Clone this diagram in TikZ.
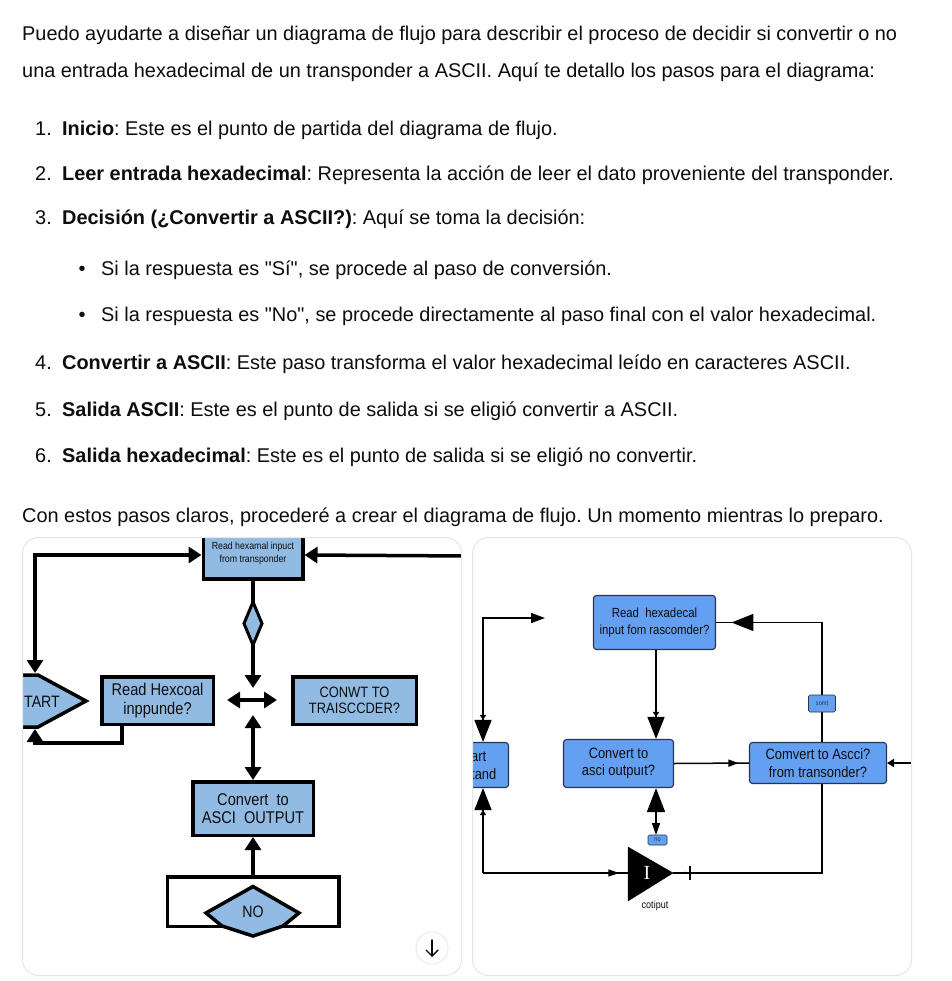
\documentclass[tikz,border=0pt]{standalone}
\usepackage{fontspec}
\setmainfont{Liberation Sans}[Ligatures=TeXOff]
\newfontfamily\serifI{Liberation Serif}
\newfontfamily\cond[FakeStretch=0.86]{Liberation Sans}
\usetikzlibrary{arrows.meta,decorations.markings,calc}
\definecolor{txt}{HTML}{0D0D0D}
\definecolor{lblue}{RGB}{146,187,228}
\definecolor{rblue}{RGB}{100,160,242}
\definecolor{rborder}{RGB}{40,52,80}
\definecolor{panel}{RGB}{230,230,230}
\tikzset{ltip/.tip={Triangle[length=13pt,width=16pt]}}
\frenchspacing
\begin{document}
\begin{tikzpicture}[x=1pt,y=-1pt,
  body/.style={anchor=base west,inner sep=0pt,text=txt,font=\fontsize{19.9}{24}\selectfont},
  num/.style={anchor=base east,inner sep=0pt,text=txt,font=\fontsize{19.9}{24}\selectfont},
  bul/.style={anchor=base,inner sep=0pt,text=txt,font=\fontsize{19.9}{24}\selectfont},
  lbox/.style={draw=black,line width=3.5pt,fill=lblue,inner sep=0pt,align=center,text=txt,font=\cond\fontsize{17}{18.5}\selectfont},
  lline/.style={line width=3.5pt,line join=miter},
  rbox/.style={draw=rborder,line width=1.1pt,fill=rblue,rounded corners=3pt,inner sep=0pt,align=center,text=txt},
  rline/.style={line width=1.5pt},
  tag/.style={draw=rborder,line width=0.6pt,fill=rblue,rounded corners=1.5pt,inner sep=0pt,font=\cond\fontsize{6.5}{7}\selectfont,text=rborder},
  lbl/.style={inner sep=0pt,text=txt},
]
\useasboundingbox (0,0) rectangle (951,981);
\fill[white] (0,0) rectangle (951,981);

% ---------- text ----------
\node[body] (t1) at (22,41) {Puedo ayudarte a diseñar un diagrama de flujo para describir el proceso de decidir si convertir o no};
\node[body] (t2) at (22,78) {una entrada hexadecimal de un transponder a ASCII. Aquí te detallo los pasos para el diagrama:};
\node[num] (n1) at (52,136) {1.};
\node[body] (i1) at (62,136) {\textbf{Inicio}: Este es el punto de partida del diagrama de flujo.};
\node[num] (n2) at (52,181) {2.};
\node[body] (i2) at (62,181) {\textbf{Leer entrada hexadecimal}: Representa la acción de leer el dato proveniente del transponder.};
\node[num] (n3) at (52,225) {3.};
\node[body] (i3) at (62,225) {\textbf{Decisión (¿Convertir a ASCII?)}: Aquí se toma la decisión:};
\node[bul] (b1) at (82,276) {•};
\node[body] (s1) at (101,276) {Si la respuesta es "Sí", se procede al paso de conversión.};
\node[bul] (b2) at (82,321) {•};
\node[body] (s2) at (101,321) {Si la respuesta es "No", se procede directamente al paso final con el valor hexadecimal.};
\node[num] (n4) at (52,369) {4.};
\node[body] (i4) at (62,369) {\textbf{Convertir a ASCII}: Este paso transforma el valor hexadecimal leído en caracteres ASCII.};
\node[num] (n5) at (52,416) {5.};
\node[body] (i5) at (62,416) {\textbf{Salida ASCII}: Este es el punto de salida si se eligió convertir a ASCII.};
\node[num] (n6) at (52,462) {6.};
\node[body] (i6) at (62,462) {\textbf{Salida hexadecimal}: Este es el punto de salida si se eligió no convertir.};
\node[body] (t3) at (22,522) {Con estos pasos claros, procederé a crear el diagrama de flujo. Un momento mientras lo preparo.};

% ---------- left panel ----------
\begin{scope}
\clip[rounded corners=16pt] (22.5,537.5) rectangle (461.5,975.5);
\node[lbox,minimum width=99.5pt,minimum height=48pt] (top) at (253,555) {};
\node[lbl,align=center,font=\cond\fontsize{10.2}{13}\selectfont] (toptxt) at (253,553) {Read hexamal inpuct\\from transponder};
\draw[lline,{ltip}-{ltip}] (35,673) |- (top.west);
\draw[lline,-{ltip}] (470,556) -- (top.east);
\draw[lline,-{ltip}] (top.south) -- (253,688);
\draw[line width=3pt,fill=lblue,line join=miter] (253,602) -- (262,623.5) -- (253,645) -- (244,623.5) -- cycle;
% START
\draw[lline,fill=lblue] (0,675) -- (38,675) -- (86,701) -- (38,727) -- (0,727) -- cycle;
\node[lbl,font=\cond\fontsize{16.5}{18}\selectfont] (st) at (42,702) {TART};
\coordinate (stTop) at (35,675);
\coordinate (stBot) at (35,729);
\node[lbox,minimum width=111.5pt,minimum height=47.5pt] (hx) at (157.5,700.5) {Read Hexcoal\\inppunde?};
\draw[lline,-{ltip}] ($(hx.south west)+(22,0)$) |- (35,743) -- (stBot);
\coordinate (h1) at (227,700);
\coordinate (h2) at (277,700);
\draw[lline,{ltip}-{ltip}] (h1) -- (h2);
\node[lbox,minimum width=123.5pt,minimum height=47.5pt,font=\cond\fontsize{15}{16.5}\selectfont] (cw) at (354.5,700.5) {CONWT TO\\TRAISCCDER?};
\node[lbox,minimum width=120.5pt,minimum height=53.5pt] (cv) at (253,808.5) {Convert\ \ to\\ASCI\ \ OUTPUT};
\coordinate (v1) at (253,715);
\draw[lline,{ltip}-{ltip}] (v1) -- (cv.north);
\node[draw=black,line width=3.5pt,minimum width=171.5pt,minimum height=49.5pt,inner sep=0pt] (rc) at (253,901.5) {};
\draw[lline,-{ltip}] (rc.north) -- (cv.south);
\draw[lline,fill=lblue] (206,913) -- (253,886.5) -- (299,913) -- (283,926) -- (253,936) -- (222,926) -- cycle;
\node[lbl,font=\cond\fontsize{16.5}{18}\selectfont] (no) at (253,912) {NO};
\end{scope}
\draw[panel,line width=1pt,rounded corners=16pt] (22.5,537.5) rectangle (461.5,975.5);
\node[circle,draw=panel,fill=white,line width=0.8pt,minimum size=32pt,inner sep=0pt] (dl) at (432,948) {};
\draw[line width=1.4pt,txt,line cap=round] ($(dl.center)+(0,-8)$) -- ($(dl.center)+(0,8)$);
\draw[line width=1.4pt,txt,line cap=round,line join=round] ($(dl.center)+(-6,2)$) -- ($(dl.center)+(0,8)$) -- ($(dl.center)+(6,2)$);

% ---------- right panel ----------
\begin{scope}
\clip[rounded corners=16pt] (472.5,537.5) rectangle (911.5,975.5);
\node[rbox,minimum width=122pt,minimum height=54pt,font=\cond\fontsize{13.2}{16.5}\selectfont] (rb) at (654.5,622.5) {Read\ \ hexadecal\\input fom rascomder?};
\node[rbox,minimum width=68pt,minimum height=45pt] (art) at (474.5,765) {};
\node[lbl,anchor=west,align=left,font=\cond\fontsize{15}{18}\selectfont] (arttxt) at (471,766) {art\\tand};
\node[rbox,minimum width=110pt,minimum height=48pt,font=\cond\fontsize{15}{17.5}\selectfont] (cb) at (618.5,763.5) {Convert to\\asci outpuıt?};
\node[rbox,minimum width=137pt,minimum height=41pt,font=\cond\fontsize{15}{17.5}\selectfont] (tb) at (818,763) {Comvert to Ascci?\\from transonder?};
\coordinate (lt) at (545,618);
\draw[rline,{Triangle[length=14pt,width=10pt]}-{Triangle[length=5pt,width=6pt] Triangle[length=22pt,width=17pt]}] (lt) -| ($(art.north)+(8.5,0)$);
\draw[rline,-{Triangle[length=5pt,width=6pt] Triangle[length=22pt,width=17pt]}] ($(rb.south)+(1.5,0)$) -- ($(rb.south |- cb.north)+(1.5,0)$);
\draw[rline,postaction={decorate},decoration={markings,mark=at position 0.86 with {\arrow{Triangle[length=10pt,width=7pt]}}}] (cb.east) -- (tb.west);
\coordinate (re) at (915,763);
\draw[line width=2.2pt,-{Triangle[length=7pt,width=8pt]}] (re) -- (tb.east);
\draw[rline,postaction={decorate},decoration={markings,mark=at position 210pt with {\arrow{Triangle[length=22pt,width=17pt]}}}] ($(tb.north)+(4,0)$) |- (rb.east);
\node[tag,minimum width=27pt,minimum height=17pt] (somt) at (822,703.5) {somt};
\draw[rline,{Triangle[length=24pt,width=18pt]}-{Triangle[length=12pt,width=8pt]}] ($(rb.south |- cb.south)+(1.5,0)$) -- (656,835);
\node[tag,minimum width=19pt,minimum height=10pt] (no2) at (657.5,840) {no};
% buffer
\draw[fill=black] (628,847) -- (673,873) -- (628,901) -- cycle;
\coordinate (bufW) at (628,873);
\coordinate (bufE) at (673,873);
\node[lbl,text=white,font=\serifI\fontsize{20}{20}\selectfont] (bufI) at (647,873) {I};
\node[lbl,font=\cond\fontsize{10.5}{11}\selectfont] (cot) at (655,906) {cotiput};
\coordinate (bl) at (483,873);
\draw[rline,-{Triangle[length=5pt,width=6pt] Triangle[length=22pt,width=17pt]}] (bl) -- ($(art.south)+(8.5,0)$);
\draw[rline,postaction={decorate},decoration={markings,mark=at position 0.94 with {\arrow{Triangle[length=11pt,width=7pt]}}}] (bl) -- (bufW);
\draw[rline] (bufE) -| ($(tb.south)+(4,0)$);
\draw[line width=2.4pt] (690,866) -- (690,880);
\fill (685,873) circle (1.3pt);
\end{scope}
\draw[panel,line width=1pt,rounded corners=16pt] (472.5,537.5) rectangle (911.5,975.5);
\end{tikzpicture}
\end{document}
